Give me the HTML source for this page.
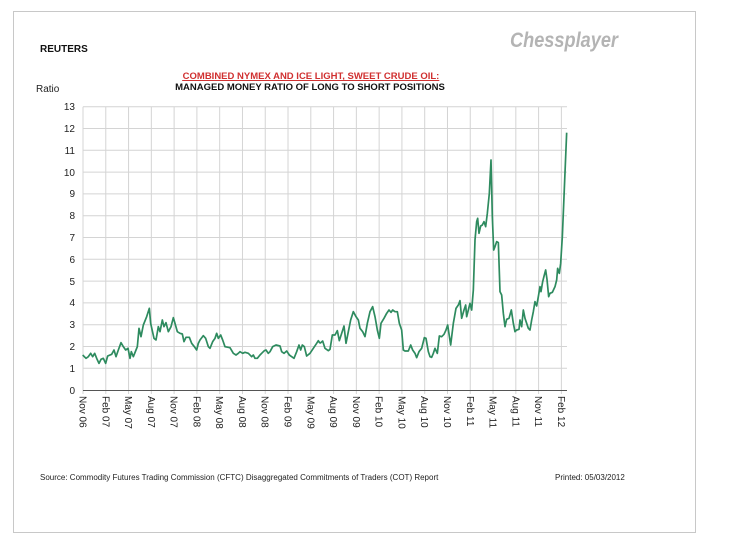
<!DOCTYPE html>
<html><head><style>
body{margin:0;background:#fff;width:732px;height:549px;overflow:hidden;font-family:"Liberation Sans",Arial,sans-serif;}
</style></head><body>
<svg width="732" height="549" xmlns="http://www.w3.org/2000/svg" font-family="Liberation Sans, Arial, sans-serif">
<rect x="13.5" y="11.5" width="682" height="521" fill="none" stroke="#c8c8c8"/>
<text x="40" y="52" font-size="10" font-weight="bold" fill="#111">REUTERS</text>
<text x="510" y="47" font-size="21" font-weight="bold" font-style="italic" fill="#b4b4b4" textLength="108" lengthAdjust="spacingAndGlyphs">Chessplayer</text>
<text x="311" y="79" font-size="9.5" font-weight="bold" fill="#d03030" text-anchor="middle" text-decoration="underline">COMBINED NYMEX AND ICE LIGHT, SWEET CRUDE OIL:</text>
<line x1="182" y1="80.5" x2="439" y2="80.5" stroke="#d03030" stroke-width="0.8"/>
<text x="310" y="90" font-size="9.5" font-weight="bold" fill="#111" text-anchor="middle">MANAGED MONEY RATIO OF LONG TO SHORT POSITIONS</text>
<text x="36" y="92" font-size="10" fill="#222">Ratio</text>
<g stroke="#d4d4d4" stroke-width="1">
<line x1="83" y1="106.7" x2="567" y2="106.7"/><line x1="83" y1="128.5" x2="567" y2="128.5"/><line x1="83" y1="150.3" x2="567" y2="150.3"/><line x1="83" y1="172.1" x2="567" y2="172.1"/><line x1="83" y1="193.9" x2="567" y2="193.9"/><line x1="83" y1="215.7" x2="567" y2="215.7"/><line x1="83" y1="237.5" x2="567" y2="237.5"/><line x1="83" y1="259.3" x2="567" y2="259.3"/><line x1="83" y1="281.1" x2="567" y2="281.1"/><line x1="83" y1="302.9" x2="567" y2="302.9"/><line x1="83" y1="324.7" x2="567" y2="324.7"/><line x1="83" y1="346.5" x2="567" y2="346.5"/><line x1="83" y1="368.3" x2="567" y2="368.3"/>
</g>
<g stroke="#d4d4d4" stroke-width="1" id="vg"></g>
<g font-size="10" fill="#222" text-anchor="end">
<text x="75" y="110">13</text><text x="75" y="132">12</text><text x="75" y="154">11</text><text x="75" y="176">10</text><text x="75" y="197">9</text><text x="75" y="219">8</text><text x="75" y="241">7</text><text x="75" y="263">6</text><text x="75" y="285">5</text><text x="75" y="306">4</text><text x="75" y="328">3</text><text x="75" y="350">2</text><text x="75" y="372">1</text><text x="75" y="394">0</text>
</g>
<line x1="83" y1="390.5" x2="567" y2="390.5" stroke="#555"/>
<g id="xl" font-size="10" fill="#222"></g>
<g fill="none" stroke="#2e8b5f" stroke-width="1.7" stroke-linejoin="round">
<polyline transform="translate(60,90) scale(0.33333)" vector-effect="non-scaling-stroke" points="68,795 78,805 85,800 92,790 98,800 104,790 110,805 117,820 123,808 130,805 137,820 143,798 155,793 162,780 168,800 175,780 183,758 190,770 197,780 204,775 210,805 214,785 220,800 228,780 232,770 237,715 243,740 250,705 260,680 268,655 272,700 282,745 288,750 295,710 300,725 307,690 312,710 318,698 325,725 333,710 340,683 345,700 352,725 360,730 367,732 372,755 378,742 388,742 395,760 403,770 410,780 415,760 420,750 430,737 437,745 445,770 450,775 458,755 465,745 470,730 475,745 482,735 488,750 495,770 510,773 520,790 528,795 535,790 540,785 548,790 555,787 565,790 575,800 580,795 585,805 592,805 600,795 605,790 613,782 618,780 625,790 630,785 638,770 648,765 660,768 665,785 672,790 680,783 688,795 695,800 702,805 710,785 717,765 722,780 727,765 733,770 740,798 750,790 760,775 770,760 775,752 780,760"/>
<polyline transform="translate(320,90) scale(0.33333)" vector-effect="non-scaling-stroke" points="0,760 8,753 15,775 25,782 30,778 37,735 45,735 52,722 58,752 65,730 72,708 78,760 85,725 92,690 100,665 108,680 115,690 120,715 128,725 135,740 142,700 150,665 158,650 165,680 172,720 178,745 183,700 192,685 200,670 207,660 213,667 218,660 225,665 232,665 238,700 245,720 250,780 255,783 265,783 272,765 278,780 285,790 290,803 297,785 305,775 313,743 318,745 325,785 330,800 335,802 340,790 345,775 352,790 358,738 365,740 372,733 378,720 383,705 392,765 400,700 408,655 415,645 420,632 425,685 432,660 437,645 440,680 445,660 450,640 455,660 460,600 465,450 470,395 473,385 477,430 482,408 487,405 492,395 497,410 502,370 508,310 513,210 517,380 521,480 525,470 530,455 535,458 540,605 545,615 550,670 555,710 560,688 567,685 574,660 580,700 585,725 590,720 597,718 600,690 605,710 610,660 615,685 620,700 625,715 630,720 635,690 640,665 645,635 650,648 655,620 660,590 663,605 668,575 673,555 677,540 681,568 686,620 690,610 697,607 705,590 710,570 713,535 718,550 722,520 727,440 732,320 737,200 740,128"/>
</g>
<text x="40" y="480" font-size="8" fill="#222">Source:  Commodity Futures Trading Commission (CFTC) Disaggregated Commitments of Traders (COT) Report</text>
<text x="555" y="480" font-size="8" fill="#222">Printed:  05/03/2012</text>
<script>
var labs=["Nov 06","Feb 07","May 07","Aug 07","Nov 07","Feb 08","May 08","Aug 08","Nov 08","Feb 09","May 09","Aug 09","Nov 09","Feb 10","May 10","Aug 10","Nov 10","Feb 11","May 11","Aug 11","Nov 11","Feb 12"];
var ns="http://www.w3.org/2000/svg",vg=document.getElementById("vg"),xl=document.getElementById("xl");
for(var i=0;i<22;i++){var x=83+i*22.78;
var l=document.createElementNS(ns,"line");l.setAttribute("x1",x);l.setAttribute("x2",x);l.setAttribute("y1",106.7);l.setAttribute("y2",394);vg.appendChild(l);
var t=document.createElementNS(ns,"text");t.setAttribute("transform","translate("+(x-3.5)+",396) rotate(90)");t.textContent=labs[i];xl.appendChild(t);}
</script>
</svg>
</body></html>
